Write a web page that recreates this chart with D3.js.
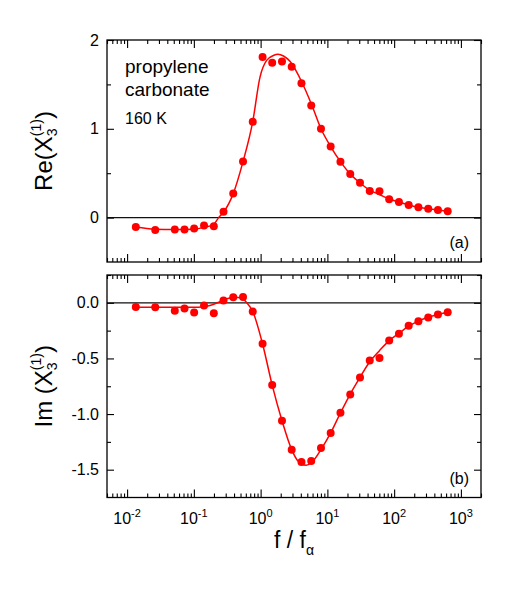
<!DOCTYPE html>
<html>
<head>
<meta charset="utf-8">
<script src="https://cdn.jsdelivr.net/npm/d3@7"></script>
<style>
    body { margin: 0; background: #fff; }
    svg text { font-family: "Liberation Sans", Arial, Helvetica, sans-serif; fill: #000; }
</style>
</head>
<body>
<div id="chart"></div>
<script>
/*
 * Measured frequencies, f / f_alpha.
 */
var freq = [0.0135, 0.0264, 0.0518, 0.0724, 0.101, 0.142, 0.199, 0.278, 0.389, 0.545,
    0.762, 1.07, 1.49, 2.09, 2.92, 4.09, 5.73, 8.02, 11.2, 15.7, 22.0, 30.8, 43.1, 60.3,
    84.3, 118, 165, 231, 324, 453, 634];
/*
 * Measured Re and Im parts.
 */
var reData = [-0.105, -0.139, -0.135, -0.135, -0.124, -0.09, -0.097, 0.067, 0.27, 0.633,
    1.079, 1.809, 1.745, 1.757, 1.70, 1.513, 1.262, 1.0, 0.80, 0.629, 0.49, 0.393, 0.30,
    0.296, 0.206, 0.176, 0.142, 0.116, 0.101, 0.086, 0.071];
var imData = [-0.038, -0.041, -0.071, -0.05, -0.088, -0.024, -0.094, 0.021, 0.05, 0.053,
    -0.079, -0.368, -0.738, -1.059, -1.321, -1.432, -1.421, -1.306, -1.171, -0.988, -0.824,
    -0.671, -0.518, -0.497, -0.338, -0.279, -0.206, -0.165, -0.132, -0.106, -0.085];
/*
 * Fit curves.
 */
var fitReFreq = [0.0135, 0.026, 0.05, 0.1, 0.142, 0.199, 0.235, 0.278, 0.389, 0.545, 0.762,
    0.977, 1.23, 1.55, 1.82, 2.2, 2.75, 4.12, 5.82, 8.02, 11.2, 15.7, 22, 30.8, 43.1, 60.3,
    84.3, 118, 165, 231, 324, 453, 634];
var fitRe = [-0.105, -0.13, -0.135, -0.13, -0.11, -0.075, 0.0, 0.06, 0.27, 0.63, 1.08,
    1.58, 1.77, 1.825, 1.84, 1.82, 1.76, 1.53, 1.27, 1.0, 0.8, 0.63, 0.49, 0.39, 0.31, 0.26,
    0.21, 0.175, 0.142, 0.117, 0.1, 0.085, 0.071];
var fitImFreq = [0.0135, 0.05, 0.1, 0.138, 0.174, 0.245, 0.31, 0.41, 0.52, 0.62, 0.762,
    1.07, 1.49, 2.09, 2.92, 3.6, 4.8, 5.73, 8.02, 11.2, 15.7, 22, 30.8, 43.1, 60.3, 84.3,
    118, 165, 231, 324, 453, 634];
var fitIm = [-0.04, -0.04, -0.04, -0.035, -0.024, 0.01, 0.036, 0.05, 0.045, 0.0, -0.078,
    -0.37, -0.74, -1.06, -1.32, -1.42, -1.46, -1.44, -1.32, -1.17, -0.99, -0.82, -0.67,
    -0.53, -0.43, -0.34, -0.275, -0.21, -0.165, -0.13, -0.105, -0.085];
/*
 * Tick labels.
 */
var xMajor = [0.01, 0.1, 1, 10, 100, 1000];
var xExponents = ['-2', '-1', '0', '1', '2', '3'];
var reTicks = [0, 1, 2];
var reMinor = [0.5, 1.5];
var imTicks = [0, -0.5, -1.0, -1.5];
var imMinor = [0.25, -0.25, -0.75, -1.25];

/*
 * Layout.
 */
var width = 507, height = 589;
var left = 107, right = 481;
var panels = [
    { top: 40, bottom: 262, domain: [-0.5, 2], ticks: reTicks, minor: reMinor,
      format: d3.format('d'), tag: '(a)', values: reData,
      fitX: fitReFreq, fitY: fitRe, label: 'Re(X' },
    { top: 275, bottom: 497.5, domain: [-1.75, 0.25], ticks: imTicks, minor: imMinor,
      format: function(d) { return d.toFixed(1); }, tag: '(b)', values: imData,
      fitX: fitImFreq, fitY: fitIm, label: 'Im (X' }
];
var red = '#ff0000';

var svg = d3.select('#chart').append('svg')
    .attr('width', width)
    .attr('height', height);

var x = d3.scaleLog()
    .domain([0.005, 2000])
    .range([left, right]);
/*
 * All 1..9 multiples inside the domain, major ones removed.
 */
var xMinor = x.ticks().filter(function(d) {
    return Math.abs(Math.log10(d) - Math.round(Math.log10(d))) > 1e-6;
});

panels.forEach(function(p) {
    var y = d3.scaleLinear().domain(p.domain).range([p.bottom, p.top]);
    var g = svg.append('g');
    /*
     * Zero line.
     */
    g.append('line')
        .attr('x1', left).attr('x2', right)
        .attr('y1', y(0)).attr('y2', y(0))
        .attr('stroke', '#111')
        .attr('stroke-width', 1.2);
    /*
     * Inward ticks on all four sides.
     */
    function axis(gen, values, size, tx, ty) {
        g.append('g')
            .attr('transform', 'translate(' + tx + ',' + ty + ')')
            .call(gen.tickValues(values).tickSize(-size).tickFormat(''))
            .call(function(s) {
                s.select('.domain').remove();
                s.selectAll('line').attr('stroke', '#000').attr('stroke-width', 1.1);
            });
    }
    axis(d3.axisBottom(x), xMajor, 8, 0, p.bottom);
    axis(d3.axisBottom(x), xMinor, 4, 0, p.bottom);
    axis(d3.axisTop(x), xMajor, 8, 0, p.top);
    axis(d3.axisTop(x), xMinor, 4, 0, p.top);
    axis(d3.axisLeft(y), p.ticks, 7, left, 0);
    axis(d3.axisLeft(y), p.minor, 4, left, 0);
    axis(d3.axisRight(y), p.ticks, 7, right, 0);
    axis(d3.axisRight(y), p.minor, 4, right, 0);
    /*
     * Y tick labels.
     */
    g.append('g')
        .attr('transform', 'translate(' + left + ',0)')
        .call(d3.axisLeft(y).tickValues(p.ticks).tickSize(0).tickPadding(8).tickFormat(p.format))
        .call(function(s) {
            s.select('.domain').remove();
            s.selectAll('text').attr('font-size', 16)
                .style('font-family', '"Liberation Sans", Arial, sans-serif');
        });
    /*
     * Fit curve.
     */
    var fit = p.fitX.map(function(f, i) { return [f, p.fitY[i]]; });
    g.append('path')
        .attr('d', d3.line()
            .x(function(d) { return x(d[0]); })
            .y(function(d) { return y(d[1]); })
            .curve(d3.curveMonotoneX)(fit))
        .attr('fill', 'none')
        .attr('stroke', red)
        .attr('stroke-width', 1.5);
    /*
     * Data points.
     */
    g.selectAll('circle')
        .data(p.values)
        .enter().append('circle')
        .attr('cx', function(d, i) { return x(freq[i]); })
        .attr('cy', function(d) { return y(d); })
        .attr('r', 4)
        .attr('fill', red);
    /*
     * Frame.
     */
    g.append('rect')
        .attr('x', left).attr('y', p.top)
        .attr('width', right - left).attr('height', p.bottom - p.top)
        .attr('fill', 'none')
        .attr('stroke', '#000')
        .attr('stroke-width', 1.3);
    /*
     * Panel tag.
     */
    g.append('text')
        .attr('x', 469).attr('y', p.bottom - 14)
        .attr('text-anchor', 'end')
        .attr('font-size', 16)
        .text(p.tag);
    /*
     * Y axis title.
     */
    var t = g.append('text')
        .attr('transform', 'translate(52,' + ((p.top + p.bottom) / 2) + ') rotate(-90)')
        .attr('text-anchor', 'middle')
        .attr('font-size', 24);
    t.append('tspan').text(p.label);
    t.append('tspan').attr('font-size', 14).attr('dy', 5).text('3');
    t.append('tspan').attr('font-size', 14).attr('dx', -7.8).attr('dy', -16).text('(1)');
    t.append('tspan').attr('dy', 11).text(')');
});

/*
 * X tick labels.
 */
xMajor.forEach(function(v, i) {
    var t = svg.append('text')
        .attr('x', x(v)).attr('y', 524)
        .attr('text-anchor', 'middle')
        .attr('font-size', 16);
    t.append('tspan').text('10');
    t.append('tspan').attr('font-size', 11).attr('dy', -7).text(xExponents[i]);
});

/*
 * X axis title.
 */
var xt = svg.append('text')
    .attr('x', 294).attr('y', 548)
    .attr('text-anchor', 'middle')
    .attr('font-size', 23);
xt.append('tspan').text('f / f');
xt.append('tspan').attr('font-size', 14).attr('dy', 7).text('\u03b1');

/*
 * Sample annotation.
 */
var notes = [['propylene', 73, 19], ['carbonate', 96, 19], ['160 K', 124, 16]];
notes.forEach(function(n) {
    svg.append('text')
        .attr('x', 125).attr('y', n[1])
        .attr('font-size', n[2])
        .text(n[0]);
});
</script>
</body>
</html>
